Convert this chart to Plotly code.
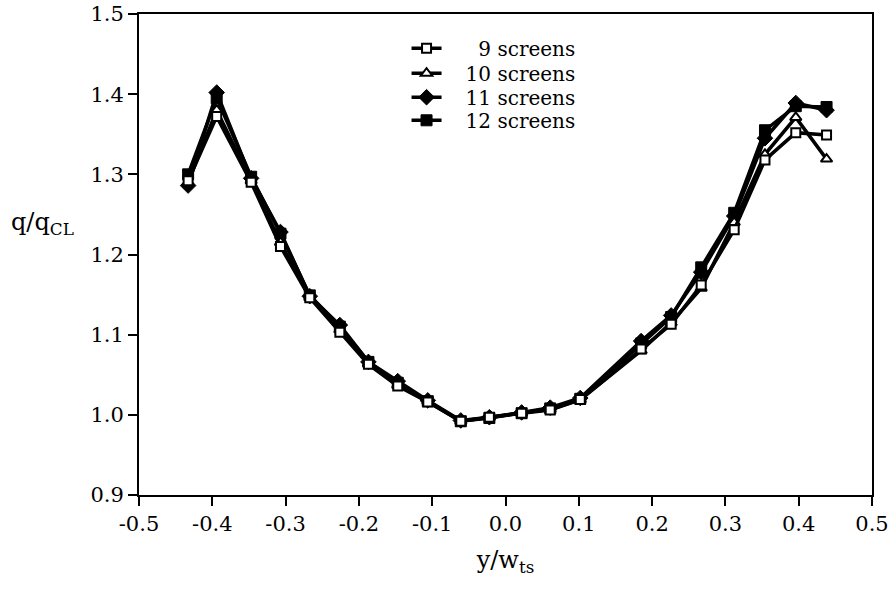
import plotly.graph_objects as go

x = [-0.433, -0.394, -0.347, -0.307, -0.267, -0.226, -0.187, -0.147, -0.106, -0.061,
     -0.022, 0.022, 0.061, 0.102, 0.185, 0.226, 0.267, 0.312, 0.354, 0.396, 0.438]

s9 = [1.292, 1.372, 1.290, 1.210, 1.146, 1.103, 1.063, 1.036, 1.016, 0.992,
      0.997, 1.002, 1.006, 1.019, 1.082, 1.113, 1.162, 1.231, 1.318, 1.352, 1.349]
s10 = [1.290, 1.380, 1.292, 1.215, 1.147, 1.106, 1.064, 1.037, 1.017, 0.992,
       0.997, 1.002, 1.007, 1.019, 1.080, 1.115, 1.158, 1.240, 1.325, 1.371, 1.319]
s11 = [1.286, 1.402, 1.295, 1.228, 1.148, 1.112, 1.066, 1.042, 1.018, 0.993,
       0.997, 1.003, 1.009, 1.021, 1.092, 1.124, 1.178, 1.248, 1.345, 1.389, 1.380]
s12 = [1.300, 1.395, 1.297, 1.226, 1.149, 1.110, 1.066, 1.040, 1.017, 0.992,
       0.996, 1.002, 1.008, 1.020, 1.089, 1.122, 1.184, 1.252, 1.355, 1.385, 1.384]

names = ["     9 screens", "   10 screens", "   11 screens", "   12 screens"]
x_ticks = [-0.5, -0.4, -0.3, -0.2, -0.1, 0.0, 0.1, 0.2, 0.3, 0.4, 0.5]
x_ticktext = ["-0.5", "-0.4", "-0.3", "-0.2", "-0.1", "0.0", "0.1", "0.2", "0.3", "0.4", "0.5"]
y_ticks = [0.9, 1.0, 1.1, 1.2, 1.3, 1.4, 1.5]
y_ticktext = ["0.9", "1.0", "1.1", "1.2", "1.3", "1.4", "1.5"]

FONT = "DejaVu Serif, Liberation Serif, serif"

fig = go.Figure()

series = [
    (names[3], s12, "legend4", dict(symbol="square", size=11, color="black", line=dict(color="black", width=1))),
    (names[2], s11, "legend3", dict(symbol="diamond", size=12, color="black", line=dict(color="black", width=1))),
    (names[1], s10, "legend2", dict(symbol="triangle-up", size=10, color="white", line=dict(color="black", width=2))),
    (names[0], s9, "legend", dict(symbol="square", size=9, color="white", line=dict(color="black", width=2))),
]
for name, ys, lg, mk in series:
    fig.add_trace(go.Scatter(x=x, y=ys, name=name, mode="lines+markers", legend=lg,
                             line=dict(color="black", width=3.5), marker=mk))

def leg(yc):
    return dict(x=0.365, y=yc, xanchor="left", yanchor="middle",
                bgcolor="rgba(0,0,0,0)", font=dict(family=FONT, size=20),
                itemwidth=30, borderwidth=0)

fig.update_layout(
    width=896, height=589,
    margin=dict(l=139, r=24, t=14, b=94, autoexpand=False),
    paper_bgcolor="white", plot_bgcolor="white",
    font=dict(family=FONT, size=20, color="black"),
    showlegend=True,
    legend=leg(0.929), legend2=leg(0.877), legend3=leg(0.827), legend4=leg(0.779),
    xaxis=dict(range=[-0.5, 0.5], tickvals=x_ticks, ticktext=x_ticktext,
               ticks="outside", ticklen=9, tickwidth=2, tickcolor="black",
               showline=True, linecolor="black", linewidth=2, mirror=True,
               showgrid=False, zeroline=False, automargin=False,
               tickfont=dict(family=FONT, size=21),
               title=dict(text="y/w<sub>ts</sub>", font=dict(family=FONT, size=24), standoff=16)),
    yaxis=dict(range=[0.9, 1.5], tickvals=y_ticks, ticktext=y_ticktext,
               ticks="outside", ticklen=9, tickwidth=2, tickcolor="black",
               showline=True, linecolor="black", linewidth=2, mirror=True,
               showgrid=False, zeroline=False, automargin=False,
               tickfont=dict(family=FONT, size=21)),
)

fig.add_annotation(text="q/q<sub>CL</sub>", xref="paper", yref="paper",
                   x=-0.178, y=0.565, xanchor="left", yanchor="middle",
                   showarrow=False, font=dict(family=FONT, size=24))

fig.write_html("out.html")
